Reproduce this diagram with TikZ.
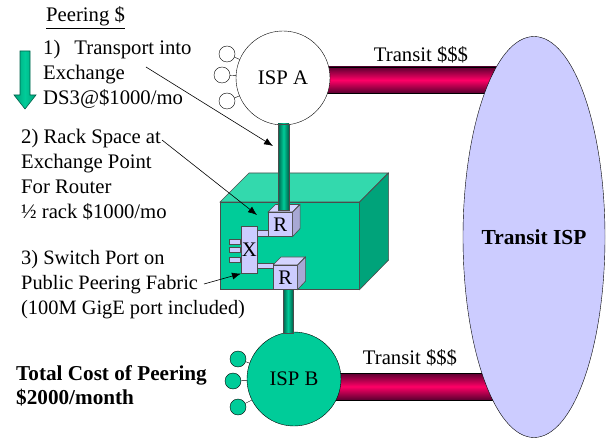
\documentclass[tikz,border=0pt]{standalone}
\usepackage{fontspec}
\setmainfont{Liberation Serif}
\usetikzlibrary{shapes,arrows.meta,positioning,backgrounds}

\definecolor{ispgreen}{HTML}{00CC99}
\definecolor{topgreen}{HTML}{33D9AD}
\definecolor{sidegreen}{HTML}{00A37A}
\definecolor{darkgreen}{HTML}{00604A}
\definecolor{lilac}{HTML}{CCCCFF}
\definecolor{sidelilac}{HTML}{A8A8D4}
\definecolor{linkpink}{HTML}{FF0066}
\definecolor{darkpink}{HTML}{5A0030}

\tikzset{
  txt/.style={inner sep=0pt,align=left,font=\fontsize{20.7}{25}\selectfont},
  isp/.style={circle,draw,minimum size=94pt,inner sep=0pt,font=\fontsize{20.7}{25}\selectfont},
  stub/.style={circle,draw,minimum size=16pt,inner sep=0pt},
  face/.style={draw=black!70,line width=0.6pt},
  router/.style={rectangle,face,fill=lilac,minimum size=24pt,inner sep=0pt,font=\fontsize{20.7}{25}\selectfont},
  port/.style={rectangle,face,fill=lilac,minimum width=11pt,minimum height=5pt,inner sep=0pt},
  pipe/.style={draw=black!70,line width=0.5pt,left color=darkgreen,right color=darkgreen,middle color=ispgreen},
  transit/.style={draw=black,line width=0.5pt,top color=darkpink,bottom color=darkpink,middle color=linkpink},
  callout/.style={-{Latex[length=9pt,width=7pt]},line width=0.6pt}
}

% top and side of a router box, d is the depth
\newcommand{\routerbox}[2]{
\fill[lilac!85!white,face] (#1.north west) -- ++(#2,-#2) -- ++(24,0) -- (#1.north east) -- cycle;
\fill[sidelilac,face] (#1.north east) -- ++(#2,-#2) -- ++(0,24) -- (#1.south east) -- cycle;
}

\begin{document}
\begin{tikzpicture}[x=1pt,y=-1pt]
\useasboundingbox (0,0) rectangle (607,443);

% left column
\node[txt,anchor=base west] (peering) at (46,22) {\underline{Peering \$}};
\node[txt,anchor=north west] (transport) at (43,40) {1)\hspace{14pt}Transport into\\Exchange\\DS3@\$1000/mo};
\node[txt,anchor=north west] (rack) at (21,129) {2) Rack Space at\\Exchange Point\\For Router\\½ rack \$1000/mo};
\node[txt,anchor=north west,font=\fontsize{20.4}{25}\selectfont] (switch) at (21,250) {3) Switch Port on\\Public Peering Fabric\\(100M GigE port included)};
\node[txt,anchor=north west,font=\fontsize{21.2}{24}\selectfont\bfseries] (total) at (16,365) {Total Cost of Peering\\\$2000/month};

\shadedraw[draw=darkgreen,line width=0.6pt,left color=sidegreen,right color=sidegreen,middle color=ispgreen]
  (20,51) -- (30,51) -- (30,95) -- (36,95) -- (25,109) -- (14,95) -- (20,95) -- cycle;

% the big ones
\node[ellipse,draw,fill=lilac,minimum width=142pt,minimum height=401pt,inner sep=0pt] (transitisp) at (534,237) {};
\node[txt,font=\fontsize{21.4}{25}\selectfont\bfseries] (transitlabel) at (transitisp) {Transit ISP};
\node[isp,fill=white] (ispa) at (283,78) {ISP A};
\node[isp,fill=ispgreen] (ispb) at (294,379) {ISP B};

% customers
\foreach \name/\xx/\yy in {a1/227/54,a2/222/75,a3/227/101}
  \node[stub] (\name) at (\xx,\yy) {};
\foreach \name/\xx/\yy in {b1/238/359,b2/233/381,b3/238/407}
  \node[stub,fill=ispgreen] (\name) at (\xx,\yy) {};
\foreach \name in {a1,a2,a3}
  \draw (\name) -- (ispa);
\foreach \name in {b1,b2,b3}
  \draw (\name) -- (ispb);

\begin{pgfonlayer}{background}
\shadedraw[transit] (ispa.center |- 0,67) rectangle (transitisp.center |- 0,93);
\shadedraw[transit] (ispb.center |- 0,373) rectangle (transitisp.center |- 0,400);
\end{pgfonlayer}
\node[txt] (transita) at (421,55) {Transit \$\$\$};
\node[txt] (transitb) at (410,358) {Transit \$\$\$};

% exchange box
\node[rectangle,face,fill=ispgreen,minimum width=139pt,minimum height=87pt,inner sep=0pt,anchor=north west] (exchange) at (220,202) {};
\fill[topgreen,face] (exchange.north west) -- ++(29,-29) -- ++(139,0) -- (exchange.north east) -- cycle;
\fill[sidegreen,face] (exchange.north east) -- ++(29,-29) -- ++(0,87) -- (exchange.south east) -- cycle;

% switch and routers
\node[router,anchor=north west] (ra) at (268,212) {R};
\routerbox{ra}{7.5}
\node[router,anchor=north west] (rb) at (273,265) {R};
\routerbox{rb}{8}
\node[rectangle,face,fill=lilac,minimum width=16pt,minimum height=47pt,inner sep=0pt,font=\fontsize{20.7}{25}\selectfont,anchor=north west] (sw) at (241,226) {X};
\foreach \name/\yy in {pa/241.5,pb/249.5,pc/260}
  \node[port,anchor=east] (\name) at (241,\yy) {};
\coordinate (swa) at (257,230.5);
\coordinate (swb) at (257,263);
\fill[lilac,face] (swa) rectangle (ra.west |- 0,236);
\fill[lilac,face] (swb) rectangle (rb.west |- 0,268);

% links into the exchange
\shadedraw[pipe] (278,124) rectangle (289,210);
\shadedraw[pipe] (283,289.5) rectangle (293,333);

% callouts
\coordinate (ca) at (146,67);
\coordinate (cb) at (273,146);
\coordinate (cc) at (162,140);
\coordinate (cd) at (257,215);
\coordinate (ce) at (204,284);
\draw[callout] (ca) -- (cb);
\draw[callout] (cc) -- (cd);
\draw[callout] (ce) -- (sw.south west);
\end{tikzpicture}
\end{document}
